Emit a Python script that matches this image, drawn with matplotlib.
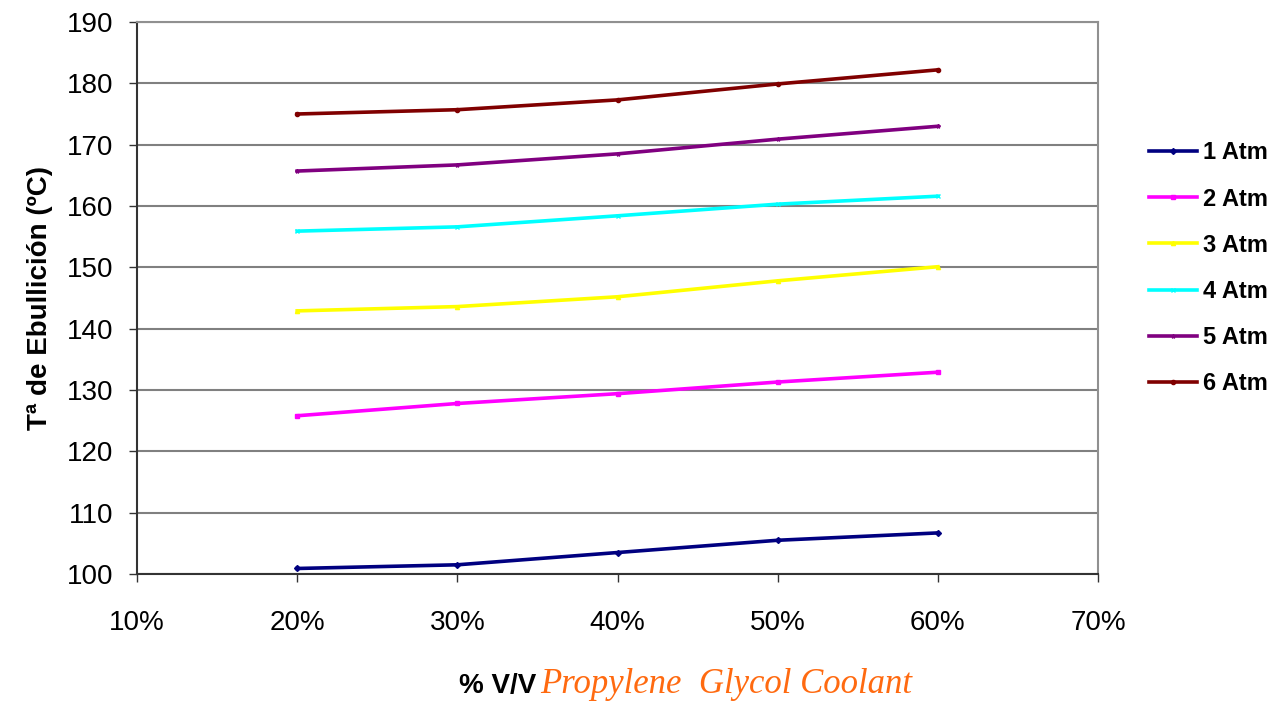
import numpy as np
import matplotlib
matplotlib.use('Agg')
import matplotlib.pyplot as plt
from matplotlib.ticker import FuncFormatter

plt.rcParams['font.family'] = ['Liberation Sans', 'DejaVu Sans']

# % V/V propylene glycol
conc = [0.20, 0.30, 0.40, 0.50, 0.60]
labels = ['1 Atm', '2 Atm', '3 Atm', '4 Atm', '5 Atm', '6 Atm']
atm1 = [100.9, 101.5, 103.5, 105.5, 106.7]
atm2 = [125.8, 127.8, 129.4, 131.3, 132.9]
atm3 = [142.9, 143.6, 145.2, 147.8, 150.1]
atm4 = [155.9, 156.6, 158.4, 160.3, 161.6]
atm5 = [165.7, 166.7, 168.5, 170.9, 173.0]
atm6 = [175.0, 175.7, 177.3, 179.9, 182.2]

colors = ['#000080', '#FF00FF', '#FFFF00', '#00FFFF', '#800080', '#800000']
markers = ['D', 's', '^', 'x', '*', 'o']

fig = plt.figure(figsize=(12.76, 7.04), dpi=100)
ax = fig.add_axes([137/1276, 1 - 574/704, (1098 - 137)/1276, (574 - 22)/704])

for ys, lab, c, m in zip([atm1, atm2, atm3, atm4, atm5, atm6], labels, colors, markers):
    ax.plot(conc, ys, color=c, lw=2.6, marker=m, ms=3, mew=1, label=lab)

ax.set_xlim(0.10, 0.70)
ax.set_ylim(100, 190)
ax.set_xticks(np.arange(0.10, 0.71, 0.10))
ax.set_yticks(np.arange(100, 191, 10))
ax.xaxis.set_major_formatter(FuncFormatter(lambda v, p: '%d%%' % round(v * 100)))
ax.yaxis.grid(True, color='#808080', lw=1.5)
ax.set_axisbelow(True)

for s in ['top', 'right']:
    ax.spines[s].set_color('#909090')
    ax.spines[s].set_linewidth(1.5)
for s in ['left', 'bottom']:
    ax.spines[s].set_color('#333333')
    ax.spines[s].set_linewidth(1.5)

ax.tick_params(axis='y', direction='out', length=6, width=1, color='#333333', pad=11, labelsize=20)
ax.tick_params(axis='x', direction='out', length=6, width=1, color='#333333', pad=20, labelsize=20)

ax.set_ylabel('Tª de Ebullición (ºC)', fontsize=20, fontweight='bold', labelpad=10)

fig.text(536/1276, 1 - 693/704, '% V/V', ha='right', va='baseline', fontsize=20, fontweight='bold')
fig.text(540/1276, 1 - 693/704, 'Propylene  Glycol Coolant', ha='left', va='baseline',
         fontsize=25, style='italic', family=['Liberation Serif', 'DejaVu Serif'], color='#FF6A10')

ax.legend(loc='upper left', bbox_to_anchor=(1140/1276, 1 - 132/704), bbox_transform=fig.transFigure,
          frameon=False, prop={'weight': 'bold', 'size': 17}, handlelength=2.0, handletextpad=0.25,
          labelspacing=0.98, borderaxespad=0)

fig.savefig('out.png', dpi=100)
